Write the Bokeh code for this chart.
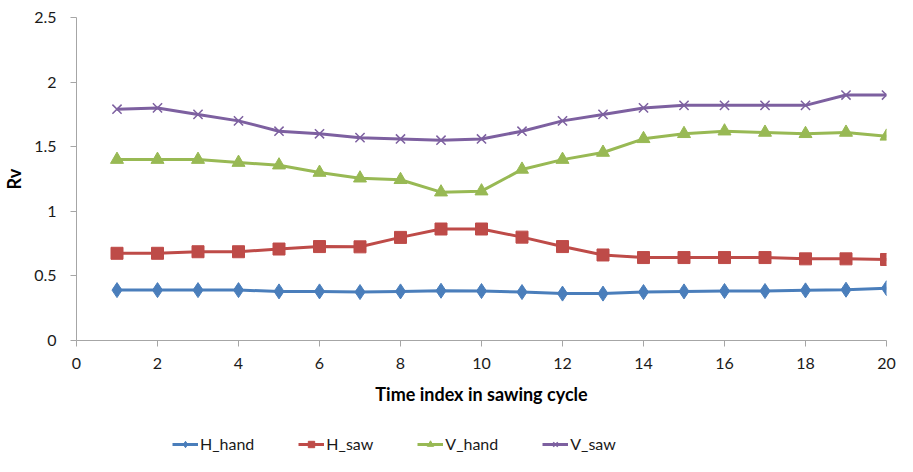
from bokeh.plotting import figure
from bokeh.layouts import column
from bokeh.models import Range1d, FixedTicker, Legend, LegendItem
from bokeh.embed import file_html
from bokeh.resources import INLINE

time_index = list(range(1, 21))
h_hand = [0.39, 0.39, 0.39, 0.39, 0.38, 0.38, 0.375, 0.38, 0.385, 0.383,
          0.375, 0.363, 0.363, 0.375, 0.38, 0.383, 0.383, 0.388, 0.393, 0.405]
h_saw = [0.675, 0.675, 0.687, 0.687, 0.708, 0.727, 0.725, 0.798, 0.863, 0.863,
         0.80, 0.727, 0.662, 0.642, 0.642, 0.642, 0.642, 0.632, 0.632, 0.627]
v_hand = [1.40, 1.40, 1.40, 1.377, 1.357, 1.30, 1.256, 1.244, 1.148, 1.156,
          1.324, 1.40, 1.455, 1.561, 1.60, 1.62, 1.61, 1.60, 1.61, 1.58]
v_saw = [1.79, 1.80, 1.75, 1.70, 1.62, 1.60, 1.57, 1.56, 1.55, 1.56,
         1.62, 1.70, 1.75, 1.80, 1.82, 1.82, 1.82, 1.82, 1.90, 1.90]

x_ticks = [0, 2, 4, 6, 8, 10, 12, 14, 16, 18, 20]
y_ticks = [0, 0.5, 1, 1.5, 2, 2.5]
series_names = ["H_hand", "H_saw", "V_hand", "V_saw"]

FONT = "Lato"
AXIS_GRAY = "#a6a6a6"
W = 897

p = figure(width=W, height=420, output_backend="svg", toolbar_location=None,
           x_range=Range1d(0, 20), y_range=Range1d(0, 2.5),
           min_border_left=73, min_border_right=11, min_border_top=17,
           min_border_bottom=80)
p.outline_line_color = None
p.xgrid.grid_line_color = None
p.ygrid.grid_line_color = None

for ax in (p.xaxis, p.yaxis):
    ax.axis_line_color = AXIS_GRAY
    ax.major_tick_line_color = AXIS_GRAY
    ax.minor_tick_line_color = None
    ax.major_tick_in = 0
    ax.major_tick_out = 6
    ax.major_label_text_font = FONT
    ax.major_label_text_font_size = "16px"
    ax.major_label_text_color = "#1a1a1a"
    ax.axis_label_text_font = FONT
    ax.axis_label_text_font_style = "bold"
    ax.axis_label_text_font_size = "18px"
    ax.axis_label_text_color = "#000000"

p.xaxis.ticker = FixedTicker(ticks=x_ticks)
p.yaxis.ticker = FixedTicker(ticks=y_ticks)
p.xaxis.major_label_standoff = 11
p.yaxis.major_label_standoff = 14
p.xaxis.axis_label = "Time index in sawing cycle"
p.yaxis.axis_label = "Rv"
p.xaxis.axis_label_standoff = 11
p.yaxis.axis_label_standoff = 6

styles = [
    ("#4A7EBB", "diamond", 15),
    ("#BE4B48", "square", 12),
    ("#98B954", "triangle", 13),
    ("#7D60A0", "x", 13),
]
values = [h_hand, h_saw, v_hand, v_saw]

# legend strip below the chart (its ranges keep the series out of view;
# only the legend key is shown there)
lg = figure(width=W, height=36, output_backend="svg", toolbar_location=None,
            x_range=Range1d(-2, -1), y_range=Range1d(-2, -1),
            min_border_left=0, min_border_right=0, min_border_top=0,
            min_border_bottom=0)
lg.axis.visible = False
lg.grid.visible = False
lg.outline_line_color = None

items = []
for name, ys, (color, marker, size) in zip(series_names, values, styles):
    p.line(time_index, ys, line_color=color, line_width=3)
    kwargs = dict(marker=marker, size=size, line_color=color, fill_color=color)
    if marker == "x":
        kwargs["line_width"] = 1.5
    p.scatter(time_index, ys, **kwargs)
    l_ln = lg.line(time_index, ys, line_color=color, line_width=3)
    lkw = dict(kwargs)
    lkw["size"] = max(size - 3, 8)
    l_sc = lg.scatter(time_index, ys, **lkw)
    items.append(LegendItem(label=name, renderers=[l_ln, l_sc]))

legend = Legend(items=items, orientation="horizontal", location=(96, 3),
                label_text_font=FONT, label_text_font_size="16px",
                label_text_color="#1a1a1a", glyph_width=26, glyph_height=16,
                label_standoff=2, spacing=44, padding=0, margin=0,
                border_line_color=None, background_fill_alpha=0)
lg.add_layout(legend, "center")

layout = column(p, lg, spacing=0)
open("out.html", "w").write(file_html(layout, INLINE))
